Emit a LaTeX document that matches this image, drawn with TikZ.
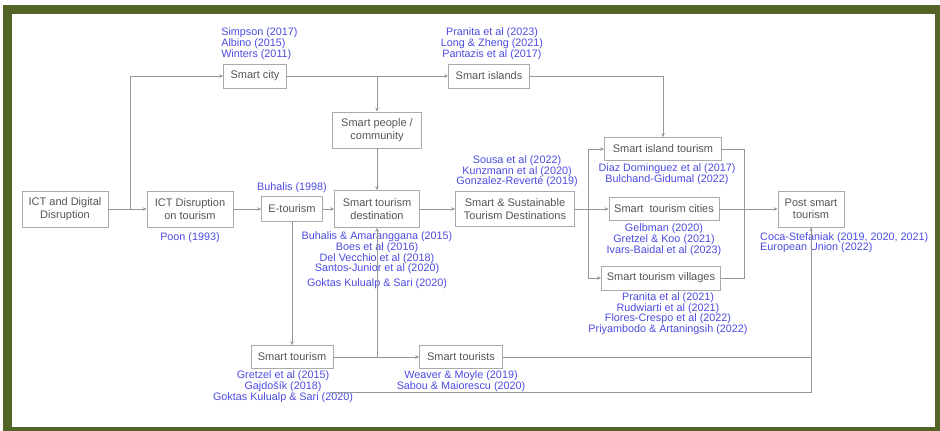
\documentclass[tikz,border=0pt]{standalone}
\usepackage{fontspec}
\setmainfont{Liberation Sans}
\usetikzlibrary{positioning,arrows.meta}
\definecolor{olivebar}{RGB}{82,101,38}
\definecolor{boxgray}{RGB}{170,170,170}
\definecolor{boxtext}{RGB}{85,85,85}
\definecolor{linegray}{RGB}{150,150,150}
\definecolor{refblue}{RGB}{75,75,225}
\begin{document}
\begin{tikzpicture}[x=1pt,y=-1pt,
    box/.style={draw=boxgray, fill=white, text=boxtext, align=center,
        font=\fontsize{11}{12.5}\selectfont, inner sep=2pt, line width=0.8pt},
    refs/.style={text=refblue, align=center,
        font=\fontsize{10.8}{10.6}\selectfont, inner sep=0pt},
    link/.style={draw=linegray, line width=0.9pt, -{Stealth[length=4pt,width=3.5pt]}},
    plain/.style={draw=linegray, line width=0.9pt}]
\useasboundingbox (0,0) rectangle (940,431);
\draw[olivebar, line width=9pt] (7.5,9) rectangle (939.5,431.5);

% main row
\node[box, minimum width=86, minimum height=36] (dig) at (65,209) {ICT and Digital\\Disruption};
\node[box, minimum width=86, minimum height=36] (ictt) at (190,209) {ICT Disruption\\on tourism};
\node[box, minimum width=61, minimum height=25] (et) at (292,209) {E-tourism};
\node[box, minimum width=85, minimum height=37] (std) at (377,209) {Smart tourism\\destination};
\node[box, minimum width=119, minimum height=35] (sstd) at (515,209) {Smart \& Sustainable\\Tourism Destinations};
\node[box, minimum width=66, minimum height=36] (pst) at (811,209) {Post smart\\tourism};

% upper row
\node[box, minimum width=63, minimum height=24] (sc) at (255,76) {Smart city};
\node[box, minimum width=81, minimum height=24] (si) at (489,76) {Smart islands};
\node[box, minimum width=89, minimum height=36] (sp) at (377,130) {Smart people /\\community};

% right column
\node[box, minimum width=117, minimum height=23] (sit) at (663,149) {Smart island tourism};
\node[box, minimum width=110, minimum height=23] (stc) at (664,209) {Smart\ \ tourism cities};
\node[box, minimum width=119, minimum height=24] (stv) at (661,278) {Smart tourism villages};

% lower row
\node[box, minimum width=82, minimum height=23] (st) at (292,357) {Smart tourism};
\node[box, minimum width=83, minimum height=23] (sts) at (461,357) {Smart tourists};

% references
\node[refs, align=left, above=4pt of sc.north west, anchor=south west, xshift=-2pt] (scref)
    {Simpson (2017)\\Albino (2015)\\Winters (2011)};
\node[refs, above=4pt of si, xshift=3pt] (siref)
    {Pranita et al (2023)\\Long \& Zheng (2021)\\Pantazis et al (2017)};
\node[refs, above=3pt of et] (etref) {Buhalis (1998)};
\node[refs, below=5pt of ictt] (ictref) {Poon (1993)};
\node[refs, below=4pt of std] (stdref)
    {Buhalis \& Amaranggana (2015)\\Boes et al (2016)\\Del Vecchio et al (2018)\\Santos-Junior et al (2020)\\[4pt]Goktas Kulualp \& Sari (2020)};
\node[refs, above=4pt of sstd, xshift=2pt] (sstdref)
    {Sousa et al (2022)\\Kunzmann et al (2020)\\Gonzalez-Reverté (2019)};
\node[refs, below=3pt of sit, xshift=4pt] (sitref)
    {Diaz Dominguez et al (2017)\\Bulchand-Gidumal (2022)};
\node[refs, below=3pt of stc] (stcref)
    {Gelbman (2020)\\Gretzel \& Koo (2021)\\Ivars-Baidal et al (2023)};
\node[refs, below=2pt of stv, xshift=7pt] (stvref)
    {Pranita et al (2021)\\Rudwiarti et al (2021)\\Flores-Crespo et al (2022)\\Priyambodo \& Artaningsih (2022)};
\node[refs, align=left, anchor=north west] (pstref) at (760,232)
    {Coca-Stefaniak (2019, 2020, 2021)\\European Union (2022)};
\node[refs, below=2pt of st, xshift=-9pt] (stref)
    {Gretzel et al (2015)\\Gajdošík (2018)\\Goktas Kulualp \& Sari (2020)};
\node[refs, below=2pt of sts] (stsref)
    {Weaver \& Moyle (2019)\\Sabou \& Maiorescu (2020)};

% connectors
\coordinate (split) at (130,209);
\coordinate (cityjoin) at (377,76);
\coordinate (fork) at (588,209);
\coordinate (merge) at (744,209);
\coordinate (lowjoin) at (377,357);
\coordinate (rise) at (811,357);
\coordinate (lowstart) at (330,392);

\draw[link] (dig) -- (ictt);
\draw[link] (split) |- (sc);
\draw[link] (ictt) -- (et);
\draw[link] (et) -- (std);
\draw[link] (std) -- (sstd);
\draw[link] (sc) -- (si);
\draw[link] (cityjoin) -- (sp);
\draw[link] (sp) -- (std);
\draw[link] (si) -| (sit);
\draw[plain] (sstd) -- (fork);
\draw[link] (fork) |- (sit);
\draw[link] (fork) -- (stc);
\draw[link] (fork) |- (stv);
\draw[plain] (sit) -| (merge);
\draw[plain] (stv) -| (merge);
\draw[link] (stc) -- (pst);
\draw[link] (et) -- (st);
\draw[link] (st) -- (sts);
\draw[link] (lowjoin) -- (std);
\draw[plain] (sts) -- (rise);
\draw[link] (lowstart) -| (pst);
\end{tikzpicture}
\end{document}
